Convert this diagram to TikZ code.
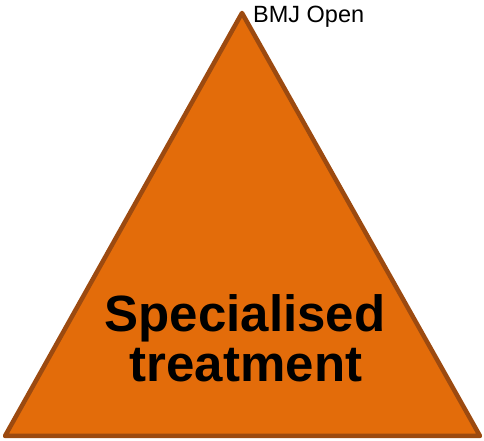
\documentclass[tikz,border=0pt]{standalone}
\usepackage{fontspec}
\setmainfont{Liberation Sans}
\definecolor{pyrfill}{HTML}{E36C0A}
\definecolor{pyredge}{HTML}{9C4A10}
\tikzset{%
  pyramid/.style={draw=pyredge, fill=pyrfill, line width=4.5pt, line join=round},
  tier/.style={font=\fontsize{51}{50}\selectfont\bfseries, anchor=base, inner sep=0pt},
  tag/.style={font=\fontsize{23.5}{26}\selectfont, anchor=base west, inner sep=0pt},
}

\begin{document}
\begin{tikzpicture}[x=1pt,y=1pt]
  \useasboundingbox (0,0) rectangle (484,441);
  % corners of the pyramid
  \coordinate (apex) at (242,428);
  \coordinate (left) at (5,5);
  \coordinate (right) at (480,5);
  \draw[pyramid] (apex) -- (left) -- (right) -- cycle;
  % level label
  \node[tier] (special) at (245,109) {Specialised};
  \node[tier] (treat) at (246,59) {treatment};
  % journal tag beside the top
  \node[tag] (bmj) at (253,418) {BMJ Open};
\end{tikzpicture}
\end{document}
